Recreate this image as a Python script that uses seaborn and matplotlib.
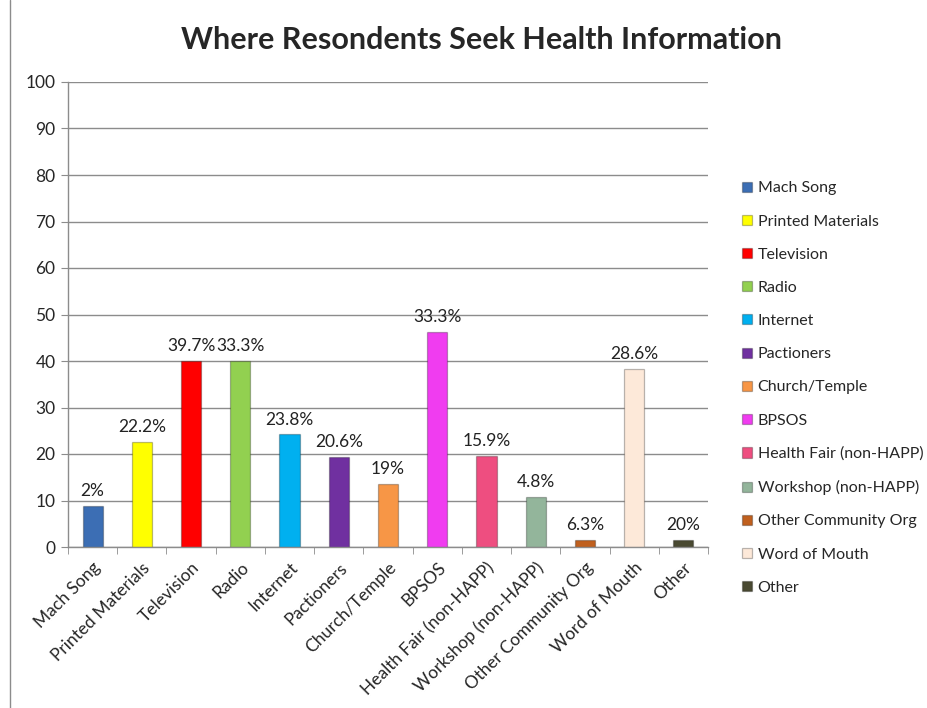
import matplotlib
matplotlib.use("Agg")
import matplotlib.pyplot as plt
import seaborn as sns
import pandas as pd
from matplotlib.lines import Line2D

categories = ["Mach Song", "Printed Materials", "Television", "Radio", "Internet",
              "Pactioners", "Church/Temple", "BPSOS", "Health Fair (non-HAPP)",
              "Workshop (non-HAPP)", "Other Community Org", "Word of Mouth", "Other"]
values = [8.9, 22.6, 40.0, 40.0, 24.2, 19.4, 13.5, 46.3, 19.6, 10.7, 1.6, 38.2, 1.6]
labels = ["2%", "22.2%", "39.7%", "33.3%", "23.8%", "20.6%", "19%", "33.3%",
          "15.9%", "4.8%", "6.3%", "28.6%", "20%"]
colors = ["#3C6EB4", "#FFFF00", "#FF0000", "#92D050", "#00B0F0", "#7030A0",
          "#F79646", "#F03CF0", "#EE4E80", "#93B59B", "#C0601E", "#FDE9D9", "#4A4A32"]
yticks = [0, 10, 20, 30, 40, 50, 60, 70, 80, 90, 100]

sns.set_style("white")
plt.rcParams['font.family'] = ['Lato', 'DejaVu Sans']

fig = plt.figure(figsize=(9.28, 7.08), dpi=100)
ax = fig.add_axes([68/928, (708-547)/708, 640/928, 465/708])

df = pd.DataFrame({"cat": categories, "val": values})
sns.barplot(data=df, x="cat", y="val", hue="cat", palette=colors, width=0.41,
            dodge=False, legend=True, ax=ax, linewidth=0.9, edgecolor="#00000045",
            saturation=1)

for i, (v, lab) in enumerate(zip(values, labels)):
    ax.annotate(lab, (i, v), xytext=(0, 5), textcoords="offset points",
                ha="center", va="bottom", fontsize=12.5, color="#222222")

ax.set_xlim(-0.5, len(categories) - 0.5)
ax.set_ylim(0, 100)
ax.set_yticks(yticks)
ax.set_yticklabels([str(t) for t in yticks], fontsize=12.5)
ax.yaxis.grid(True, color="#8C8C8C", linewidth=1)
ax.set_axisbelow(True)
ax.set_xlabel("")
ax.set_ylabel("")

ax.set_xticks(range(len(categories)))
ax.set_xticklabels(categories, rotation=45, ha="right", rotation_mode="anchor", fontsize=12.5)
ax.set_xticks([i - 0.5 for i in range(len(categories) + 1)], minor=True)
ax.tick_params(axis="x", which="major", length=0, pad=9)
ax.tick_params(axis="x", which="minor", length=5, color="#8C8C8C", direction="out", bottom=True)
ax.tick_params(axis="y", which="major", length=5, color="#8C8C8C", direction="out", left=True, pad=4)

for s in ["top", "right"]:
    ax.spines[s].set_visible(False)
for s in ["left", "bottom"]:
    ax.spines[s].set_color("#8C8C8C")
    ax.spines[s].set_linewidth(1)

handles, leg_labels = ax.get_legend_handles_labels()
ax.legend(handles, leg_labels, loc="upper left", bbox_to_anchor=(736/928, 1 - 175/708),
          bbox_transform=fig.transFigure, frameon=False, fontsize=11.5,
          handlelength=0.6, handleheight=0.6, handletextpad=0.35, labelspacing=1.2,
          borderaxespad=0)

fig.text(482/928, 1 - 40/708, "Where Resondents Seek Health Information",
         ha="center", va="center", fontsize=22, fontweight="bold")

fig.add_artist(Line2D([10/928, 10/928], [0, 1], transform=fig.transFigure,
                      color="#8C8C8C", linewidth=1))

fig.savefig("out.png", dpi=100)
